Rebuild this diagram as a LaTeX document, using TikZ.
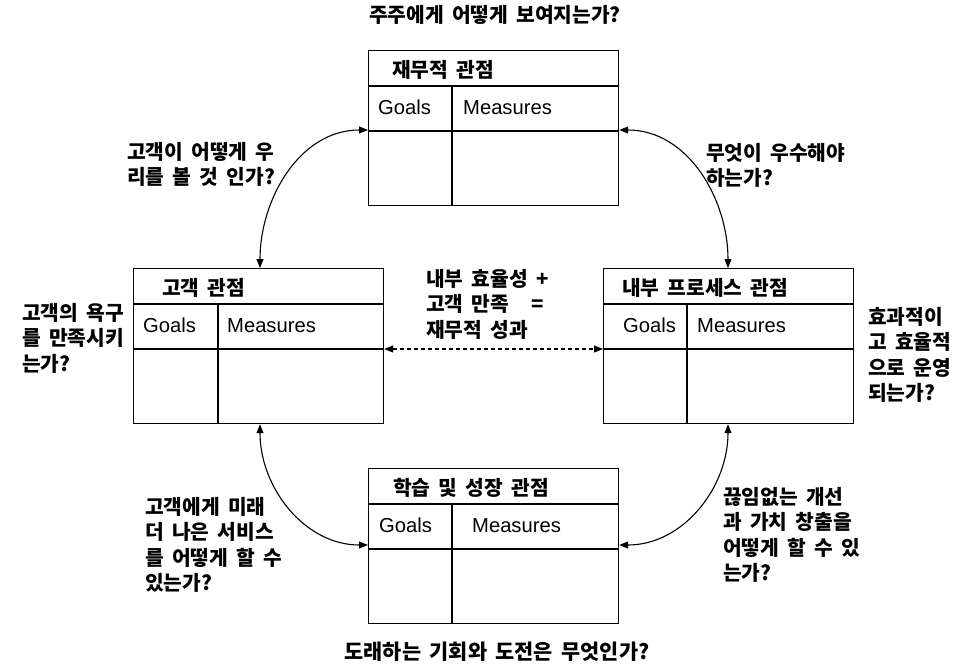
\documentclass[tikz,border=0pt]{standalone}
\usepackage{fontspec}
\setmainfont{Noto Sans CJK KR}[WordSpace=1.8]
\newfontfamily\lat{Liberation Sans}
\usetikzlibrary{arrows.meta,calc}
\tikzset{
  pbox/.style={draw, line width=1.2pt, minimum width=250pt, minimum height=155pt, inner sep=0pt, anchor=north west},
  ln/.style={line width=1.1pt},
  ttl/.style={anchor=base west, inner sep=0pt, font=\fontsize{20.3}{22}\selectfont\bfseries},
  cell/.style={anchor=base west, inner sep=0pt, font=\lat\fontsize{20.2}{22}\selectfont},
  qtext/.style={anchor=north west, align=left, inner sep=0pt, font=\fontsize{20.3}{25.5}\selectfont\bfseries},
  arr/.style={{Triangle[length=9pt,width=7pt]}-{Triangle[length=9pt,width=7pt]}, line width=1.1pt},
}
\newcommand\perspbox[7]{%
  \node[pbox] (#1) at #2 {};
  \draw[ln] ($(#1.north west)+(0,-36)$) -- ($(#1.north east)+(0,-36)$);
  \draw[ln] ($(#1.north west)+(0,-81)$) -- ($(#1.north east)+(0,-81)$);
  \draw[ln] ($(#1.north west)+(#7,-36)$) -- ($(#1.south west)+(#7,0)$);
  \node[ttl] (#1-t) at ($(#1.north west)+(#4,-27.5)$) {#3};
  \node[cell] (#1-g) at ($(#1.north west)+(#5,-64)$) {Goals};
  \node[cell] (#1-m) at ($(#1.north west)+(#6,-64)$) {Measures};
}
\begin{document}
\begin{tikzpicture}[x=1pt,y=1pt]
\useasboundingbox[fill=white] (0,0) rectangle (959,-665);

\perspbox{fin}{(368,-50)}{재무적 관점}{24}{10}{95}{84}
\perspbox{cust}{(133,-268)}{고객 관점}{29}{10}{94}{85}
\perspbox{proc}{(603,-268)}{내부 프로세스 관점}{19}{20}{94}{84}
\perspbox{learn}{(368,-468)}{학습 및 성장 관점}{25}{11}{104}{84}

\draw[arr] ($(fin.north west)+(0,-80)$) to[out=180,in=90] ($(cust.north west)+(127,0)$);
\draw[arr] ($(fin.north east)+(0,-80)$) to[out=0,in=90] ($(proc.north west)+(125,0)$);
\draw[arr] ($(cust.south west)+(127,0)$) to[out=-90,in=180] ($(learn.north west)+(0,-77)$);
\draw[arr] ($(proc.south west)+(125,0)$) to[out=-90,in=0] ($(learn.north east)+(0,-77)$);
\draw[arr, dash pattern=on 4pt off 3pt] ($(cust.north east)+(0,-81)$) -- ($(proc.north west)+(0,-81)$);

\node[font=\fontsize{20.3}{22}\selectfont\bfseries, inner sep=0pt] (qtop) at (495,-15) {주주에게 어떻게 보여지는가?};
\node[font=\fontsize{20.8}{22}\selectfont\bfseries, inner sep=0pt] (qbot) at (497,-652) {도래하는 기회와 도전은 무엇인가?};

\node[qtext] (q1) at (127,-142) {고객이 어떻게 우\\리를 볼 것 인가?};
\node[qtext] (q2) at (706,-143) {무엇이 우수해야\\하는가?};
\node[qtext] (q3) at (22,-303) {고객의 욕구\\를 만족시키\\는가?};
\node[qtext] (qc) at (426,-269) {내부 효율성 +\\고객 만족\hspace{22pt}=\\재무적 성과};
\node[qtext] (q4) at (868,-307) {효과적이\\고 효율적\\으로 운영\\되는가?};
\node[qtext] (q5) at (145,-497) {고객에게 미래\\더 나은 서비스\\를 어떻게 할 수\\있는가?};
\node[qtext] (q6) at (723,-487) {끊임없는 개선\\과 가치 창출을\\어떻게 할 수 있\\는가?};
\end{tikzpicture}
\end{document}
